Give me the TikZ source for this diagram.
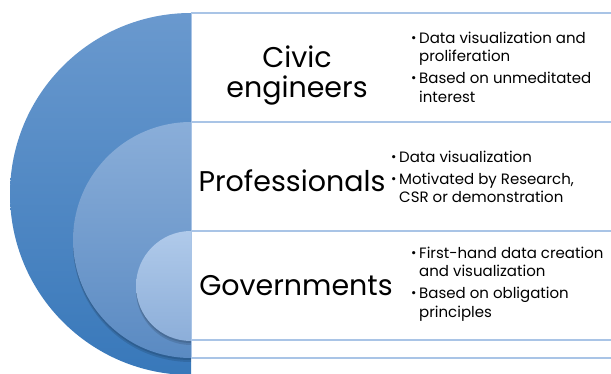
\documentclass[tikz,border=0pt]{standalone}
\usepackage{fontspec}
\setmainfont{Poppins}

\definecolor{outertop}{HTML}{6A99CE}
\definecolor{outerbot}{HTML}{3878BA}
\definecolor{midtop}{HTML}{8AAED9}
\definecolor{midbot}{HTML}{5A8AC2}
\definecolor{innertop}{HTML}{B0CAEA}
\definecolor{innerbot}{HTML}{8CAED9}
\definecolor{bandline}{HTML}{A9C4E6}

\newcommand{\bul}{\makebox[8pt][l]{\raisebox{.8pt}{\fontsize{13}{13}\selectfont\textbullet}}}
\newcommand{\ind}{\hspace*{8pt}}

\tikzset{
  band/.style = {draw=bandline, line width=1.2pt},
  title/.style = {font=\fontsize{28.5}{30}\selectfont, align=center, inner sep=0pt},
  points/.style = {font=\fontsize{15}{18.5}\selectfont, align=left, anchor=west, inner sep=0pt},
  shadow/.style = {fill=black, opacity=.12}
}

\begin{document}
\begin{tikzpicture}[x=1pt, y=1pt]
	\useasboundingbox (0,0) rectangle (611,373);
	\clip (0,0) rectangle (611,373);

	% nested half discs
	\shade[top color=outertop, bottom color=outerbot] (191,360) arc[start angle=90, end angle=270, radius=181] -- cycle;
	\fill[shadow] (191,249) arc[start angle=90, end angle=270, radius=118] -- cycle;
	\fill[shadow] (191,247) arc[start angle=90, end angle=270, radius=118] -- cycle;
	\shade[top color=midtop, bottom color=midbot] (191,251) arc[start angle=90, end angle=270, radius=118] -- cycle;
	\fill[shadow] (191,140) arc[start angle=90, end angle=270, radius=55] -- cycle;
	\fill[shadow] (191,138) arc[start angle=90, end angle=270, radius=55] -- cycle;
	\shade[top color=innertop, bottom color=innerbot] (191,142) arc[start angle=90, end angle=270, radius=55] -- cycle;

	% bands
	\draw[bandline, line width=.8pt] (191.4,15) -- (191.4,360);
	\foreach \y in {360,251,142,33,15}
		\draw[band] (191,\y) -- (611,\y);

	\node[title] (civic) at (297,297) {Civic\\engineers};
	\node[title] (prof) at (292,192) {Professionals};
	\node[title] (gov) at (296,87) {Governments};

	\node[points] (civicl) at (411,306) {\bul Data visualization and\\\ind proliferation\\[3.5pt]\bul Based on unmeditated\\\ind interest};
	\node[points] (profl) at (391,196) {\bul Data visualization\\[3.5pt]\bul Motivated by Research,\\\ind CSR or demonstration};
	\node[points] (govl) at (411,89) {\bul First-hand data creation\\\ind and visualization\\[3.5pt]\bul Based on obligation\\\ind principles};
\end{tikzpicture}
\end{document}
